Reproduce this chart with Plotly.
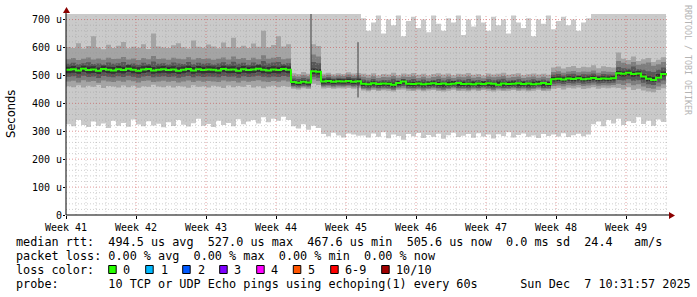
import plotly.graph_objects as go

# ---------------- data ----------------
week_ticks = [0, 7, 14, 21, 28, 35, 42, 49, 56]
week_labels = ["Week 41", "Week 42", "Week 43", "Week 44", "Week 45",
               "Week 46", "Week 47", "Week 48", "Week 49"]
y_ticks = [0, 100, 200, 300, 400, 500, 600, 700]
y_labels = ["0", "100 u", "200 u", "300 u", "400 u", "500 u", "600 u", "700 u"]

# sample times in days since start of Week 41 (half-day steps)
days = [i * 0.5 for i in range(121)]

median = [520,522,518,524,519,521,517,523,520,518,
          522,519,524,520,517,521,523,518,520,522,
          519,521,517,520,523,518,522,519,521,520,
          518,523,520,521,517,522,519,521,524,520,
          518,521,519,523,520,
          476,474,477,475,
          515,513,
          478,480,477,479,478,480,477,479,
          470,468,472,469,471,470,467,473,478,470,469,
          471,468,470,472,469,471,468,470,473,469,
          470,468,471,469,472,470,467,471,469,470,
          472,469,471,468,470,473,469,
          486,488,485,489,487,490,486,488,491,487,489,488,490,
          508,506,510,505,507,496,488,484,492,505,501]

rtt_max = [760]*59 + [705,660,690,715,650,700,680,715,640,695,
                      710,670,700,655,715,685,660,705,690,715,
                      645,700,675,715,690,660,710,680,700,650,
                      715,690,670,705,640,700,685,715,665,695,
                      710,680,700,660,690,705] + [760]*16

rtt_min = [325,318,340,322,315,335,320,328,312,338,
           320,330,316,342,324,318,336,321,327,314,
           332,319,340,323,317,329,345,320,326,315,
           338,322,330,318,343,325,335,340,328,350,
           332,345,338,352,340,
           318,310,325,305,320,312,
           290,282,295,285,278,292,288,284,
           285,278,292,280,296,275,288,283,270,290,
           282,294,276,287,280,291,273,286,295,279,
           284,290,277,293,281,288,274,289,283,296,
           278,287,292,280,285,276,290,283,288,281,
           293,279,286,291,282,288,
           325,335,318,340,328,345,322,336,330,350,326,338,320,342,333,328]

p9 = [602,598,615,596,605,640,600,594,610,598,
      606,620,597,603,599,612,595,650,604,600,
      598,608,615,601,596,625,603,599,611,604,
      597,618,602,635,600,606,598,614,603,660,
      601,609,640,604,612,
      508,505,512,506,
      612,605,
      506,510,504,508,505,511,507,509,
      506,502,508,500,505,503,510,501,507,504,
      509,502,506,500,505,508,503,507,501,506,
      504,509,502,505,500,507,503,506,510,502,
      505,508,501,504,507,503,506,502,
      528,532,525,530,534,527,531,529,536,526,533,530,528,
      582,560,555,568,552,558,562,548,556,565,560]

p8 = [558,562,555,560,564,557,561,556,563,559,
      560,566,557,561,555,562,558,570,559,561,
      556,563,560,558,565,557,562,559,561,556,
      560,564,557,568,559,562,555,563,558,572,
      560,563,566,558,561,
      498,496,501,497,
      575,568,
      499,502,497,500,498,503,499,501,
      495,492,497,491,494,493,498,492,496,494,
      497,491,495,490,494,497,492,496,491,495,
      493,497,492,494,490,496,493,495,498,492,
      494,496,491,493,496,492,495,491,
      512,515,510,514,516,511,514,513,518,510,515,513,512,
      552,545,540,548,538,542,546,535,540,548,544]

p7 = [542,545,540,544,547,541,543,539,546,542,
      544,548,540,543,538,545,541,550,542,544,
      539,546,543,541,548,540,545,542,544,539,
      543,547,540,549,542,545,538,546,541,552,
      543,546,548,541,544,
      489,487,491,488,
      548,544,
      491,493,489,492,490,494,491,492,
      485,482,487,481,484,483,488,482,486,484,
      487,481,485,480,484,487,482,486,481,485,
      483,487,482,484,480,486,483,485,488,482,
      484,486,481,483,486,482,485,481,
      502,505,500,504,506,501,504,503,507,500,505,503,502,
      530,526,524,532,522,520,515,512,520,528,525]

p6 = [531,534,529,535,532,533,528,535,531,530,
      534,531,536,532,529,533,535,530,532,534,
      531,533,529,532,535,530,534,531,533,532,
      530,535,532,533,529,534,531,533,536,532,
      530,533,531,535,532,
      482,480,484,481,
      525,522,
      486,488,485,487,486,488,485,487,
      477,475,479,474,477,476,474,480,485,477,
      476,478,475,477,479,476,474,477,480,476,
      477,475,478,476,479,477,474,478,476,477,
      479,476,478,475,477,480,476,477,
      494,496,493,497,495,498,494,496,499,495,497,496,498,
      516,514,518,513,515,504,497,494,505,514,511]

p5 = [508,510,506,512,507,509,505,511,508,506,
      510,507,512,508,505,509,511,506,508,510,
      507,509,505,508,511,506,510,507,509,508,
      506,511,508,509,505,510,507,509,512,508,
      506,509,507,511,508,
      468,466,469,467,
      505,503,
      470,472,469,471,470,472,469,471,
      462,460,464,461,463,462,459,465,470,462,
      461,463,460,462,464,461,459,462,465,461,
      462,460,463,461,464,462,459,463,461,462,
      464,461,463,460,462,465,461,462,
      478,480,477,481,479,482,478,480,483,479,481,480,482,
      498,496,500,495,497,486,479,477,487,496,493]

p4 = [495,497,492,499,494,496,491,498,495,493,
      497,494,499,495,492,496,498,493,495,497,
      494,496,492,495,498,493,497,494,496,495,
      493,498,495,496,492,497,494,496,499,495,
      493,496,494,498,495,
      462,460,463,461,
      495,492,
      464,466,463,465,464,466,463,465,
      456,454,458,455,457,456,453,459,462,456,
      455,457,454,456,458,455,453,456,459,455,
      456,454,457,455,458,456,453,457,455,456,
      458,455,457,454,456,459,455,456,
      470,472,469,473,471,474,470,472,475,471,473,472,474,
      484,482,486,481,483,474,468,466,475,482,480]

p3 = [478,481,475,483,477,480,474,482,478,476,
      481,477,483,479,475,480,482,476,478,481,
      477,480,475,478,482,476,481,477,480,478,
      476,482,478,480,475,481,477,480,483,478,
      476,480,477,482,478,
      458,456,459,457,
      485,480,
      459,461,458,460,459,461,458,460,
      451,449,453,450,452,451,448,454,456,451,
      450,452,449,451,453,450,448,451,454,450,
      451,449,452,450,453,451,448,452,450,451,
      453,450,452,449,451,454,450,451,
      462,464,461,465,463,466,462,464,467,463,465,464,466,
      470,466,472,465,468,460,455,452,460,468,465]

p2 = [461,458,465,457,463,459,466,455,462,460,
      457,464,458,463,456,461,459,467,460,458,
      463,457,462,460,456,465,459,461,457,463,
      460,455,464,458,462,459,466,457,461,454,
      460,463,458,462,459,
      452,450,454,451,
      470,466,
      453,455,452,454,453,455,452,454,
      446,443,448,444,447,445,442,449,450,445,
      444,447,443,446,448,444,442,445,449,444,
      445,443,447,444,448,445,442,446,444,445,
      448,444,446,443,445,449,444,445,
      452,455,450,456,453,457,451,454,458,452,456,454,457,
      455,450,458,448,452,446,442,440,448,454,450]

# isolated single-sample spikes of the inner smoke
spike_x = [24.5, 24.5, None, 29.2, 29.2]
spike_y = [512, 720, None, 421, 619]

stats_rtt = ["494.5 us avg", "527.0 us max", "467.6 us min", "505.6 us now", "0.0 ms sd", "24.4   am/s"]
stats_loss = ["0.00 % avg", "0.00 % max", "0.00 % min", "0.00 % now"]
loss_labels = ["0", "1", "2", "3", "4", "5", "6-9", "10/10"]
loss_colors = ["#26ff00", "#00b8ff", "#0059ff", "#7e00ff", "#ff00ff", "#ff5500", "#ff0000", "#a10000"]
probe_text = "10 TCP or UDP Echo pings using echoping(1) every 60s"
date_text = "Sun Dec  7 10:31:57 2025"

for arr in (median, rtt_max, rtt_min, p2, p3, p4, p5, p6, p7, p8, p9):
    assert len(arr) == len(days), len(arr)

# ---------------- layout helpers ----------------
W, H = 697, 297
L, R, T, B = 66, 28, 14, 82
PW = W - L - R
PH = H - T - B
X_MAX = 60.3
Y_MAX = 720


def px(xp):
    return (xp - L) / PW


def py(yp):
    return (H - B - yp) / PH


fig = go.Figure()

bands = [(rtt_min, rtt_max, "#cacaca"), (p2, p9, "#a4a4a4"), (p3, p8, "#7e7e7e"),
         (p4, p7, "#585858"), (p5, p6, "#323232")]
for lo, hi, col in bands:
    fig.add_trace(go.Scatter(x=days, y=lo, mode="lines", line=dict(width=0, shape="hv"),
                             hoverinfo="skip", showlegend=False))
    fig.add_trace(go.Scatter(x=days, y=hi, mode="lines", line=dict(width=0, shape="hv"),
                             fill="tonexty", fillcolor=col, hoverinfo="skip", showlegend=False))

fig.add_trace(go.Scatter(x=spike_x, y=spike_y, mode="lines", line=dict(width=1, color="#3a3a3a"),
                         hoverinfo="skip", showlegend=False))
fig.add_trace(go.Scatter(x=days, y=median, mode="lines",
                         line=dict(width=2, color="#26ff00", shape="hv"),
                         hoverinfo="skip", showlegend=False))

shapes = []
minor_col = "rgba(150,150,150,0.45)"
major_col = "rgba(200,60,60,0.5)"
for d in range(1, 61):
    major = d % 7 == 0
    shapes.append(dict(type="line", xref="x", yref="paper", x0=d, x1=d, y0=0, y1=1,
                       line=dict(color=major_col if major else minor_col, width=1, dash="1px,2px"),
                       layer="above"))
for v in range(20, 720, 20):
    major = v % 100 == 0
    shapes.append(dict(type="line", xref="paper", yref="y", x0=0, x1=1, y0=v, y1=v,
                       line=dict(color=major_col if major else minor_col, width=1, dash="1px,2px"),
                       layer="above"))

# axis lines and arrows
shapes.append(dict(type="line", xref="paper", yref="paper", x0=px(66), x1=px(670), y0=0, y1=0,
                   line=dict(color="black", width=1), layer="above"))
shapes.append(dict(type="line", xref="paper", yref="paper", x0=0, x1=0, y0=0, y1=py(10),
                   line=dict(color="black", width=1), layer="above"))
shapes.append(dict(type="path", xref="paper", yref="paper",
                   path=f"M {px(669)} {py(212)} L {px(675)} {py(215.5)} L {px(669)} {py(219)} Z",
                   fillcolor="#8b0000", line=dict(width=0), layer="above"))
shapes.append(dict(type="path", xref="paper", yref="paper",
                   path=f"M {px(63)} {py(13)} L {px(66.5)} {py(7)} L {px(70)} {py(13)} Z",
                   fillcolor="#8b0000", line=dict(width=0), layer="above"))

# loss colour squares
sq_x = [108.7, 145.7, 182.7, 219.7, 256.7, 293.3, 330.7, 381.7]
lab_x = [123, 160.7, 197.7, 234, 271, 308, 345, 396]
for sx, col in zip(sq_x, loss_colors):
    shapes.append(dict(type="rect", xref="paper", yref="paper",
                       x0=px(sx), x1=px(sx + 7.5), y0=py(273.5), y1=py(265.5),
                       fillcolor=col, line=dict(color="black", width=1)))

NB = "\u00a0"
mono = "DejaVu Sans Mono"
FS = 11.8


def ann(text, xpix, ypix, size=FS, color="#000000", family=mono, angle=0, xanchor="left"):
    return dict(text=text.replace(" ", NB), xref="paper", yref="paper", x=px(xpix), y=py(ypix),
                xanchor=xanchor, yanchor="middle", showarrow=False, textangle=angle,
                borderpad=0, borderwidth=0, font=dict(family=family, size=size, color=color))


line1 = "median rtt:  " + "  ".join(stats_rtt)
line2 = "packet loss: " + "  ".join(stats_loss)
line4 = "probe:       " + probe_text + "      " + date_text
annotations = [
    ann(line1, 16, 241.5),
    ann(line2, 16, 255.5),
    ann("loss color:", 16, 269.5),
    ann(line4, 16, 283.5),
    ann("Seconds", 11, 114, size=11.5, family="DejaVu Sans", angle=-90, xanchor="center"),
    ann("RRDTOOL / TOBI OETIKER", 688, 60, size=8.3, color="#b4b4b4", angle=90, xanchor="center"),
]
for lx, lab in zip(lab_x, loss_labels):
    annotations.append(ann(lab, lx, 269.5))

fig.update_layout(
    width=W, height=H,
    margin=dict(l=L, r=R, t=T, b=B, pad=0),
    paper_bgcolor="white", plot_bgcolor="white",
    showlegend=False,
    shapes=shapes,
    annotations=annotations,
    xaxis=dict(range=[0, X_MAX], tickvals=week_ticks, ticktext=week_labels,
               showgrid=False, zeroline=False, showline=False,
               ticks="outside", ticklen=3, tickcolor="#000000",
               tickfont=dict(family=mono, size=10, color="#000000")),
    yaxis=dict(range=[0, Y_MAX], tickvals=y_ticks, ticktext=y_labels,
               showgrid=False, zeroline=False, showline=False,
               ticks="outside", ticklen=2, tickcolor="#000000", ticklabelstandoff=-1,
               tickfont=dict(family=mono, size=10, color="#000000")),
)

fig.write_html("out.html")
